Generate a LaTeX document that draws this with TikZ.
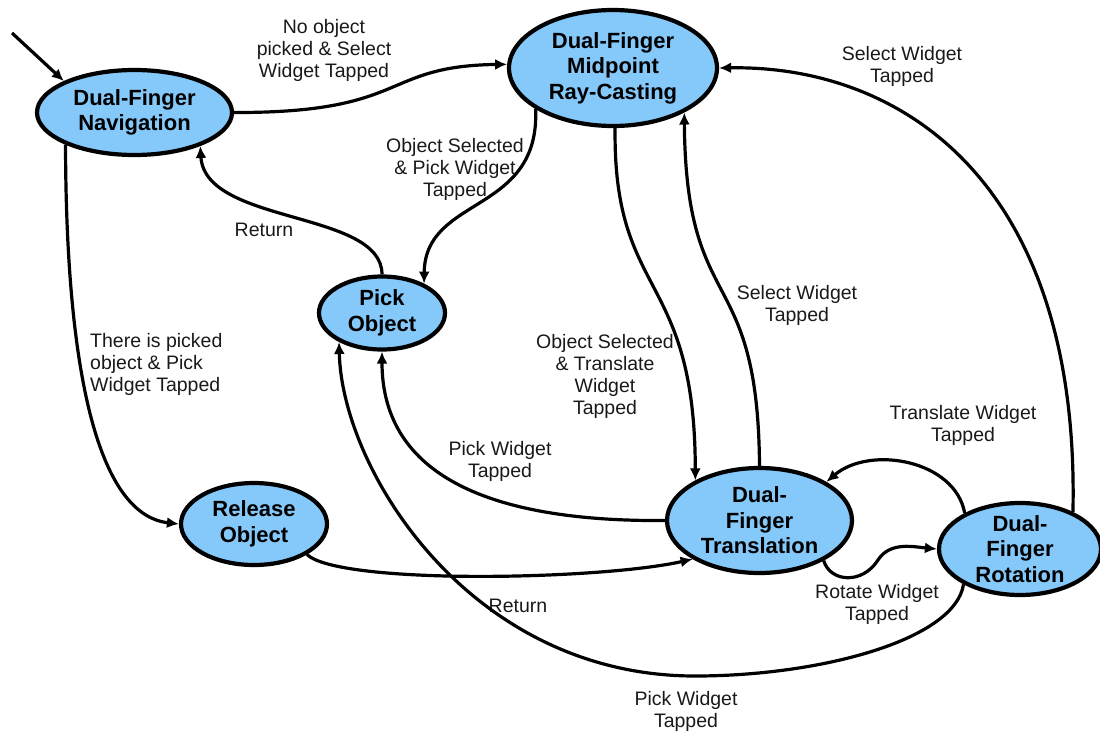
\documentclass[tikz,border=0pt]{standalone}
\usepackage{fontspec}
\setmainfont{Liberation Sans}
\usetikzlibrary{arrows.meta,shapes.geometric}
\definecolor{stfill}{RGB}{133,200,250}
\definecolor{lbltext}{RGB}{25,25,25}
\begin{document}
\begin{tikzpicture}[x=1pt,y=-1pt,
  state/.style={ellipse, draw=black, line width=4.2pt, fill=stfill, inner sep=0pt,
    align=center, font=\bfseries\fontsize{22}{25.5}\selectfont},
  edge/.style={draw, line width=3.2pt, -{Latex[length=12pt,width=11pt]}},
  lbl/.style={align=center, font=\fontsize{19.5}{22}\selectfont, text=lbltext, inner sep=0pt}]
\useasboundingbox (0,0) rectangle (1100,734);

% states
\node[state, minimum width=195pt, minimum height=85pt] (nav) at (134.5,112.5) {Dual-Finger\\Navigation};
\node[state, minimum width=208pt, minimum height=116pt] (mid) at (613,68) {Dual-Finger\\Midpoint\\Ray-Casting};
\node[state, minimum width=126pt, minimum height=73pt] (pick) at (382,313) {Pick\\Object};
\node[state, minimum width=146pt, minimum height=82pt] (rel) at (254,524) {Release\\Object};
\node[state, minimum width=185pt, minimum height=105pt, inner ysep=-4pt] (tra) at (759.5,520.5) {Dual-\\Finger\\Translation};
\node[state, minimum width=162pt, minimum height=92pt, inner ysep=-6pt] (rot) at (1020,549) {Dual-\\Finger\\Rotation};

% initial arrow
\coordinate (start) at (12,33);
\draw[edge] (start) -- (nav.156);

% Nav -> Mid
\draw[edge] (nav.east) .. controls (410,113) and (380,66) .. (mid.178);
\node[lbl] (l1) at (324,50) {No object\\picked \& Select\\Widget Tapped};

% Mid -> Pick
\draw[edge] (mid.208) .. controls (540,215) and (425,195) .. (pick.35);
\node[lbl] (l2) at (455,169) {Object Selected\\\& Pick Widget\\Tapped};

% Pick -> Nav
\draw[edge] (pick.north) .. controls (382,210) and (205,225) .. (nav.-27);
\node[lbl] (l3) at (264,230) {Return};

% Nav -> Release
\draw[edge] (nav.205) .. controls (66,380) and (100,515) .. (rel.west);
\node[lbl, align=left, anchor=west] (l4) at (90,364) {There is picked\\object \& Pick\\Widget Tapped};

% Mid -> Translation
\draw[edge] (mid.-88) .. controls (613,300) and (695,270) .. (tra.148);
\node[lbl] (l5) at (605,376) {Object Selected\\\& Translate\\Widget\\Tapped};

% Translation -> Mid
\draw[edge] (tra.north) .. controls (758,260) and (686,320) .. (mid.-32);
\node[lbl] (l6) at (797,305) {Select Widget\\Tapped};

% Translation -> Pick
\draw[edge] (tra.west) .. controls (480,522) and (382,470) .. (pick.south);
\node[lbl] (l7) at (500,461) {Pick Widget\\Tapped};

% Release -> Translation
\draw[edge] (rel.-30) .. controls (340,585) and (600,580) .. (tra.210);
\node[lbl] (l8) at (518,606) {Return};

% Translation -> Rotation
\draw[edge] (tra.-32) .. controls (830,582) and (862,585) .. (878,560)
  .. controls (890,541) and (915,547) .. (rot.west);
\node[lbl] (l9) at (877,604) {Rotate Widget\\Tapped};

% Rotation -> Translation
\draw[edge] (rot.147) .. controls (955,460) and (870,445) .. (tra.30);
\node[lbl] (l10) at (963,425) {Translate Widget\\Tapped};

% Rotation -> Mid
\draw[edge] (rot.35) .. controls (1080,180) and (900,65) .. (mid.east);
\node[lbl] (l11) at (902,66) {Select Widget\\Tapped};

% Rotation -> Pick
\draw[edge] (rot.212) .. controls (955,640) and (820,676) .. (695,676)
  .. controls (470,676) and (342,470) .. (pick.214);
\node[lbl] (l12) at (686,711) {Pick Widget\\Tapped};
\end{tikzpicture}
\end{document}
